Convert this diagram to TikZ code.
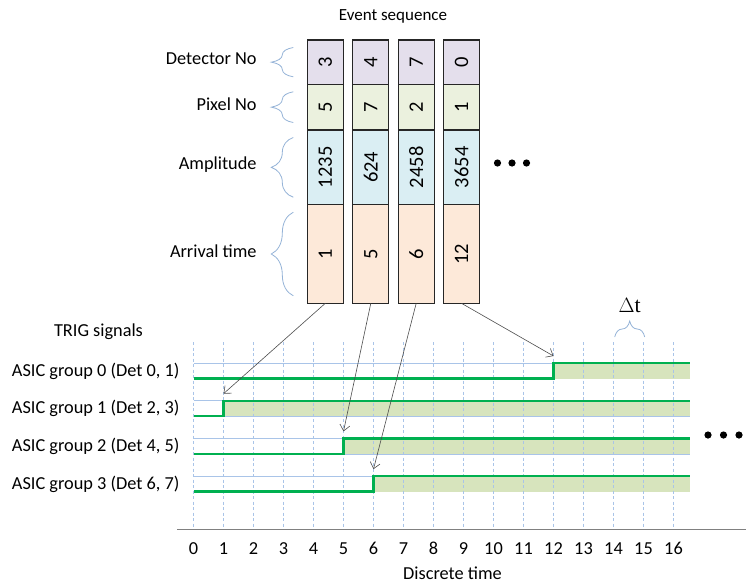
\documentclass[tikz,border=0pt]{standalone}
\usepackage{fontspec}
\setmainfont{Carlito}
\newfontfamily\deltafont{Liberation Serif}
\usepackage{tikz}
\usetikzlibrary{decorations.pathreplacing,calc,positioning,arrows.meta}

\definecolor{detfill}{HTML}{E4DFEC}
\definecolor{pixfill}{HTML}{EBF1DE}
\definecolor{ampfill}{HTML}{DAEEF3}
\definecolor{arrfill}{HTML}{FDE9D9}
\definecolor{bracecol}{HTML}{95B3D7}
\definecolor{guidecol}{HTML}{A9C4E8}
\definecolor{trigcol}{HTML}{00B050}
\definecolor{shadecol}{HTML}{D7E4BD}

\tikzset{
  cell/.style={draw=black!85, line width=1.1pt, minimum width=36pt,
               inner sep=0pt, outer sep=0pt, font=\fontsize{20.5}{22}\selectfont},
  fieldbrace/.style={draw=bracecol, line width=0.8pt, decorate,
                     decoration={brace,amplitude=22pt}},
  guide/.style={draw=guidecol, line width=0.8pt},
  gridline/.style={draw=guidecol, line width=0.7pt, dash pattern=on 3pt off 2.5pt},
  trig/.style={draw=trigcol, line width=2.3pt, line join=miter},
  evarrow/.style={draw=black!70, line width=0.6pt,
                  -{Straight Barb[length=6pt,width=10pt]}},
}

% one event: detector, pixel, amplitude, arrival time
\newcommand{\eventcol}[6]{%
  \node[cell, fill=detfill, minimum height=44.3pt, anchor=north west]
    (#1det) at (#2,40) {\rotatebox{90}{#3}};
  \node[cell, fill=pixfill, minimum height=45.7pt, below=0pt of #1det]
    (#1pix) {\rotatebox{90}{#4}};
  \node[cell, fill=ampfill, minimum height=74.7pt, below=0pt of #1pix]
    (#1amp) {\rotatebox{90}{#5}};
  \node[cell, fill=arrfill, minimum height=98.6pt, below=0pt of #1amp]
    (#1arr) {\rotatebox{90}{#6}};
}
\newcommand{\fieldbrace}[2]{%
  \draw[fieldbrace] ($(#1.south west)+(-14,-7.5)$) -- ($(#1.north west)+(-14,7.5)$)
    node[midway,left=33pt,yshift=3pt] {#2};
}
% one TRIG line: row, rise time, label
\newcommand{\trigrow}[3]{%
  \pgfmathsetmacro{\hiy}{363+37.7*#1}
  \pgfmathsetmacro{\loy}{\hiy+15.5}
  \pgfmathsetmacro{\risex}{193.5+30*#2}
  \draw[guide] (193.5,\hiy) -- (690,\hiy) (193.5,\loy) -- (690,\loy);
  \fill[shadecol] (\risex,\hiy) rectangle (690,\loy);
  \coordinate (rise#1) at (\risex,\hiy-7);
  \node[anchor=east] (asic#1) at (183,\hiy+8) {#3};
}
\newcommand{\trigline}[2]{%
  \pgfmathsetmacro{\hiy}{363+37.7*#1}
  \pgfmathsetmacro{\loy}{\hiy+15.5}
  \pgfmathsetmacro{\risex}{193.5+30*#2}
  \draw[trig] (193.5,\loy) -- (\risex,\loy) -- (\risex,\hiy) -- (690,\hiy);
}

\begin{document}
\begin{tikzpicture}[x=1pt, y=-1pt, font=\fontsize{18.3}{21}\selectfont]
  \useasboundingbox (0,0) rectangle (746,584);

  \node (title) at (393,16) {\fontsize{17}{20}\selectfont Event sequence};

  \eventcol{ev1}{307.3}{3}{5}{1235}{1}
  \eventcol{ev2}{352.8}{4}{7}{624}{5}
  \eventcol{ev3}{398.2}{7}{2}{2458}{6}
  \eventcol{ev4}{443.5}{0}{1}{3654}{12}

  \fieldbrace{ev1det}{Detector No}
  \fieldbrace{ev1pix}{Pixel No}
  \fieldbrace{ev1amp}{Amplitude}
  \fieldbrace{ev1arr}{Arrival time}

  \foreach \dx in {0,14.5,29}
    \fill (497.5+\dx,163) circle (3.6);

  \node (trigtitle) at (98.5,332) {TRIG signals};

  \trigrow{0}{12}{ASIC group 0 (Det 0, 1)}
  \trigrow{1}{1}{ASIC group 1 (Det 2, 3)}
  \trigrow{2}{5}{ASIC group 2 (Det 4, 5)}
  \trigrow{3}{6}{ASIC group 3 (Det 6, 7)}

  \foreach \n in {0,...,16} {
    \draw[gridline] (193.5+30*\n,342) -- (193.5+30*\n,529);
    \node (tick\n) at (193.5+30*\n,548.5) {\n};
  }

  \trigline{0}{12}
  \trigline{1}{1}
  \trigline{2}{5}
  \trigline{3}{6}

  \draw[draw=black!50, line width=0.8pt] (177,529) -- (746,529);
  \node[inner sep=1pt] (xlabel) at (452.5,573.5) {Discrete time};

  \draw[fieldbrace, decoration={brace,amplitude=16pt}] (614.7,337) -- (644.7,337)
    node[midway,above=21pt] (dt) {\deltafont\fontsize{22}{24}\selectfont $\Delta$t};

  \foreach \dx in {0,15.5,31}
    \fill (708+\dx,435) circle (3.6);

  \draw[evarrow] (ev1arr.south) -- (rise1);
  \draw[evarrow] (ev2arr.south) -- (rise2);
  \draw[evarrow] (ev3arr.south) -- (rise3);
  \draw[evarrow] (ev4arr.south) -- (rise0);
\end{tikzpicture}
\end{document}
